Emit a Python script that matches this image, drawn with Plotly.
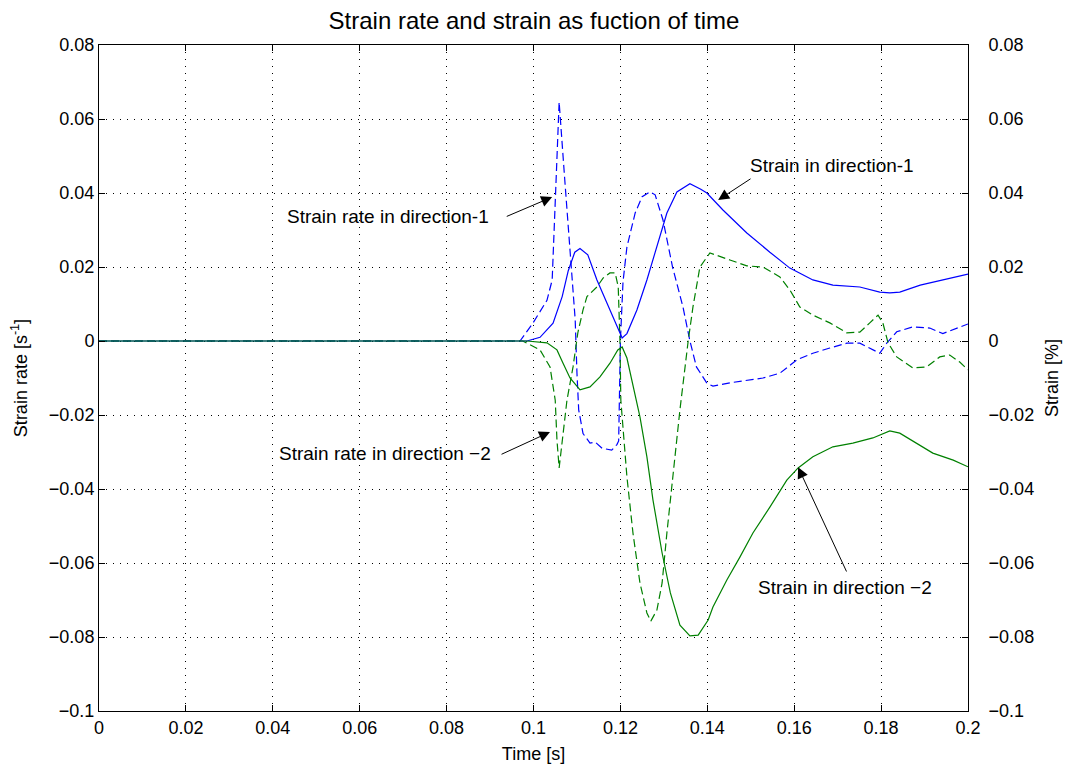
import plotly.graph_objects as go

# ---- data ----
t_rate1 = [0, 0.0969, 0.0999, 0.1031, 0.1043, 0.105, 0.1059, 0.1072, 0.1082, 0.1096, 0.1100, 0.1104,
           0.1114, 0.113, 0.1142, 0.1158, 0.118, 0.1192, 0.1196, 0.1200, 0.1206, 0.1215, 0.1234, 0.125,
           0.1268, 0.128, 0.1298, 0.132, 0.1344, 0.136, 0.1375, 0.1399, 0.1413, 0.1452, 0.1528, 0.1567,
           0.1606, 0.1643, 0.1682, 0.1721, 0.1751, 0.1774, 0.1797, 0.1813, 0.1836, 0.1873, 0.1912, 0.1942,
           0.1966, 0.2]
rate1 = [0, 0, 0.0049, 0.011, 0.0165, 0.039, 0.0646, 0.0435, 0.027, 0.0057, -0.0086, -0.0186,
         -0.025, -0.0276, -0.0273, -0.029, -0.0295, -0.028, -0.027, 0.0, 0.016, 0.0254, 0.0346, 0.039,
         0.0403, 0.0395, 0.0327, 0.020, 0.0092, 0.0, -0.007, -0.0114, -0.0122, -0.0113, -0.010, -0.0087,
         -0.0051, -0.0033, -0.0019, -0.0006, -0.0006, -0.002, -0.0033, -0.0006, 0.0025, 0.0038, 0.0035, 0.002,
         0.003, 0.0046]

t_strain1 = [0, 0.0985, 0.1015, 0.1045, 0.1066, 0.108, 0.1095, 0.1107, 0.1125, 0.1146, 0.1169, 0.1192,
             0.1204, 0.1215, 0.1238, 0.1261, 0.1284, 0.1307, 0.133, 0.136, 0.1385, 0.1399, 0.1436, 0.1491,
             0.1544, 0.159, 0.1643, 0.1689, 0.1751, 0.1797, 0.182, 0.1843, 0.189, 0.1952, 0.2]
strain1 = [0, 0, 0.001, 0.0048, 0.012, 0.019, 0.024, 0.025, 0.0233, 0.0165, 0.0103, 0.0038,
           0.0008, 0.002, 0.0084, 0.0165, 0.0254, 0.0346, 0.0403, 0.0425, 0.041, 0.040, 0.0354, 0.0292,
           0.024, 0.0197, 0.0165, 0.0151, 0.0146, 0.0132, 0.013, 0.0132, 0.0151, 0.0168, 0.0181]

t_rate2 = [0, 0.0975, 0.1015, 0.1038, 0.105, 0.1054, 0.1059, 0.1068, 0.1077, 0.1091, 0.1102, 0.1114,
           0.1123, 0.1146, 0.116, 0.1176, 0.1188, 0.1195, 0.1199, 0.1201, 0.1215, 0.1229, 0.1245, 0.1261,
           0.127, 0.1284, 0.1296, 0.1307, 0.1321, 0.1337, 0.1356, 0.1367, 0.1383, 0.1406, 0.1452, 0.1491,
           0.1528, 0.1567, 0.159, 0.1613, 0.1643, 0.1682, 0.1721, 0.1751, 0.1774, 0.1793, 0.1804, 0.1816,
           0.1836, 0.1873, 0.1905, 0.1935, 0.1958, 0.1981, 0.2]
rate2 = [0, 0, -0.0024, -0.007, -0.016, -0.0268, -0.0343, -0.025, -0.016, -0.007, 0.0022, 0.0084,
         0.012, 0.0146, 0.017, 0.0184, 0.0184, 0.0146, 0.0, -0.016, -0.0367, -0.052, -0.0654, -0.0735,
         -0.0757, -0.0727, -0.0654, -0.0519, -0.0357, -0.0186, 0.0, 0.0092, 0.020, 0.0238, 0.0219, 0.0203,
         0.020, 0.0173, 0.0138, 0.0092, 0.007, 0.0049, 0.0022, 0.0024, 0.0049, 0.007, 0.0049, -0.0005,
         -0.0043, -0.0073, -0.007, -0.0043, -0.0038, -0.0057, -0.0078]

t_strain2 = [0, 0.0985, 0.1031, 0.1054, 0.1068, 0.1084, 0.1107, 0.113, 0.1153, 0.1176, 0.1194, 0.1204,
             0.1215, 0.1229, 0.1245, 0.1261, 0.1275, 0.1296, 0.1315, 0.1337, 0.136, 0.1379, 0.1402, 0.1413,
             0.1445, 0.1475, 0.1505, 0.1544, 0.1583, 0.1609, 0.1643, 0.1689, 0.1735, 0.1781, 0.182, 0.1843,
             0.189, 0.1919, 0.1966, 0.2]
strain2 = [0, 0, -0.0005, -0.0024, -0.006, -0.01, -0.0132, -0.0124, -0.0097, -0.006, -0.0024, -0.0016,
           -0.0046, -0.0124, -0.0205, -0.0313, -0.043, -0.0573, -0.0681, -0.0768, -0.0797, -0.0795, -0.0754, -0.0719,
           -0.0646, -0.0584, -0.0519, -0.0449, -0.0376, -0.0343, -0.0313, -0.0286, -0.0276, -0.0262, -0.0243, -0.0249,
           -0.0281, -0.0303, -0.0322, -0.034]

x_ticks = [0, 0.02, 0.04, 0.06, 0.08, 0.1, 0.12, 0.14, 0.16, 0.18, 0.2]
x_ticklabels = ["0", "0.02", "0.04", "0.06", "0.08", "0.1", "0.12", "0.14", "0.16", "0.18", "0.2"]
y_ticks = [-0.1, -0.08, -0.06, -0.04, -0.02, 0, 0.02, 0.04, 0.06, 0.08]
y_ticklabels = ["\u22120.1", "\u22120.08", "\u22120.06", "\u22120.04", "\u22120.02", "0",
                "0.02", "0.04", "0.06", "0.08"]

labels = ["Strain rate in direction-1", "Strain in direction-1",
          "Strain rate in direction \u22122", "Strain in direction \u22122"]
# arrow heads / tails (data coords) and label anchors
arrow_head = [(0.1043, 0.0389), (0.1425, 0.0381), (0.1038, -0.0246), (0.1609, -0.0341)]
arrow_tail = [(0.0935, 0.0335), (0.1503, 0.0441), (0.0923, -0.0308), (0.1722, -0.0627)]
label_pos = [(0.0902, 0.0336, "right"), (0.1494, 0.0474, "left"),
             (0.0906, -0.0305, "right"), (0.1512, -0.0667, "left")]

BLUE = "rgb(0,0,255)"
GREEN = "rgb(0,128,0)"
FONT = "Liberation Sans, Arial, sans-serif"
DASH = "8px,4px"

fig = go.Figure()
fig.add_trace(go.Scatter(x=t_rate1, y=rate1, mode="lines", line=dict(color=BLUE, width=1.2, dash=DASH),
                         showlegend=False, yaxis="y"))
fig.add_trace(go.Scatter(x=t_rate2, y=rate2, mode="lines", line=dict(color=GREEN, width=1.2, dash=DASH),
                         showlegend=False, yaxis="y"))
fig.add_trace(go.Scatter(x=t_strain1, y=strain1, mode="lines", line=dict(color=BLUE, width=1.2),
                         showlegend=False, yaxis="y2"))
fig.add_trace(go.Scatter(x=t_strain2, y=strain2, mode="lines", line=dict(color=GREEN, width=1.2),
                         showlegend=False, yaxis="y2"))

annotations = []
for (hx, hy), (tx, ty) in zip(arrow_head, arrow_tail):
    annotations.append(dict(x=hx, y=hy, ax=tx, ay=ty, xref="x", yref="y", axref="x", ayref="y",
                            text="", showarrow=True, arrowhead=2, arrowsize=2.2, arrowwidth=1,
                            arrowcolor="black", standoff=0, startstandoff=0))
for txt, (lx, ly, anc) in zip(labels, label_pos):
    annotations.append(dict(x=lx, y=ly, xref="x", yref="y", text=txt, showarrow=False,
                            xanchor=anc, yanchor="middle", font=dict(family=FONT, size=19, color="black")))

axis_common = dict(showline=True, linecolor="black", linewidth=1, ticks="inside", ticklen=6,
                   tickcolor="black", tickfont=dict(family=FONT, size=18, color="black"),
                   zeroline=False, automargin=False)

fig.update_layout(
    width=1068, height=764,
    margin=dict(l=99, r=100, t=45, b=53),
    paper_bgcolor="white", plot_bgcolor="white",
    title=dict(text="Strain rate and strain as fuction of time", x=0.5, xanchor="center",
               y=0.973, yanchor="middle", font=dict(family=FONT, size=24, color="black")),
    xaxis=dict(range=[0, 0.2], tickvals=x_ticks, ticktext=x_ticklabels, mirror="ticks",
               showgrid=True, gridcolor="black", gridwidth=1, griddash="1px,6px",
               title=dict(text="Time [s]", font=dict(family=FONT, size=18, color="black"), standoff=10),
               **axis_common),
    yaxis=dict(range=[-0.1, 0.08], tickvals=y_ticks, ticktext=y_ticklabels, mirror="ticks",
               showgrid=True, gridcolor="black", gridwidth=1, griddash="1px,6px",
               title=dict(text="Strain rate [s<sup>-1</sup>]", font=dict(family=FONT, size=18, color="black"),
                          standoff=16),
               **axis_common),
    yaxis2=dict(range=[-0.1, 0.08], tickvals=y_ticks, ticktext=y_ticklabels, overlaying="y", side="right",
                showgrid=False, ticklabelstandoff=16,
                title=dict(text="Strain [%]", font=dict(family=FONT, size=18, color="black"), standoff=12),
                **axis_common),
    annotations=annotations,
)

fig.write_html("out.html", config={"displayModeBar": False},
               post_script="document.body.style.margin='0';")
